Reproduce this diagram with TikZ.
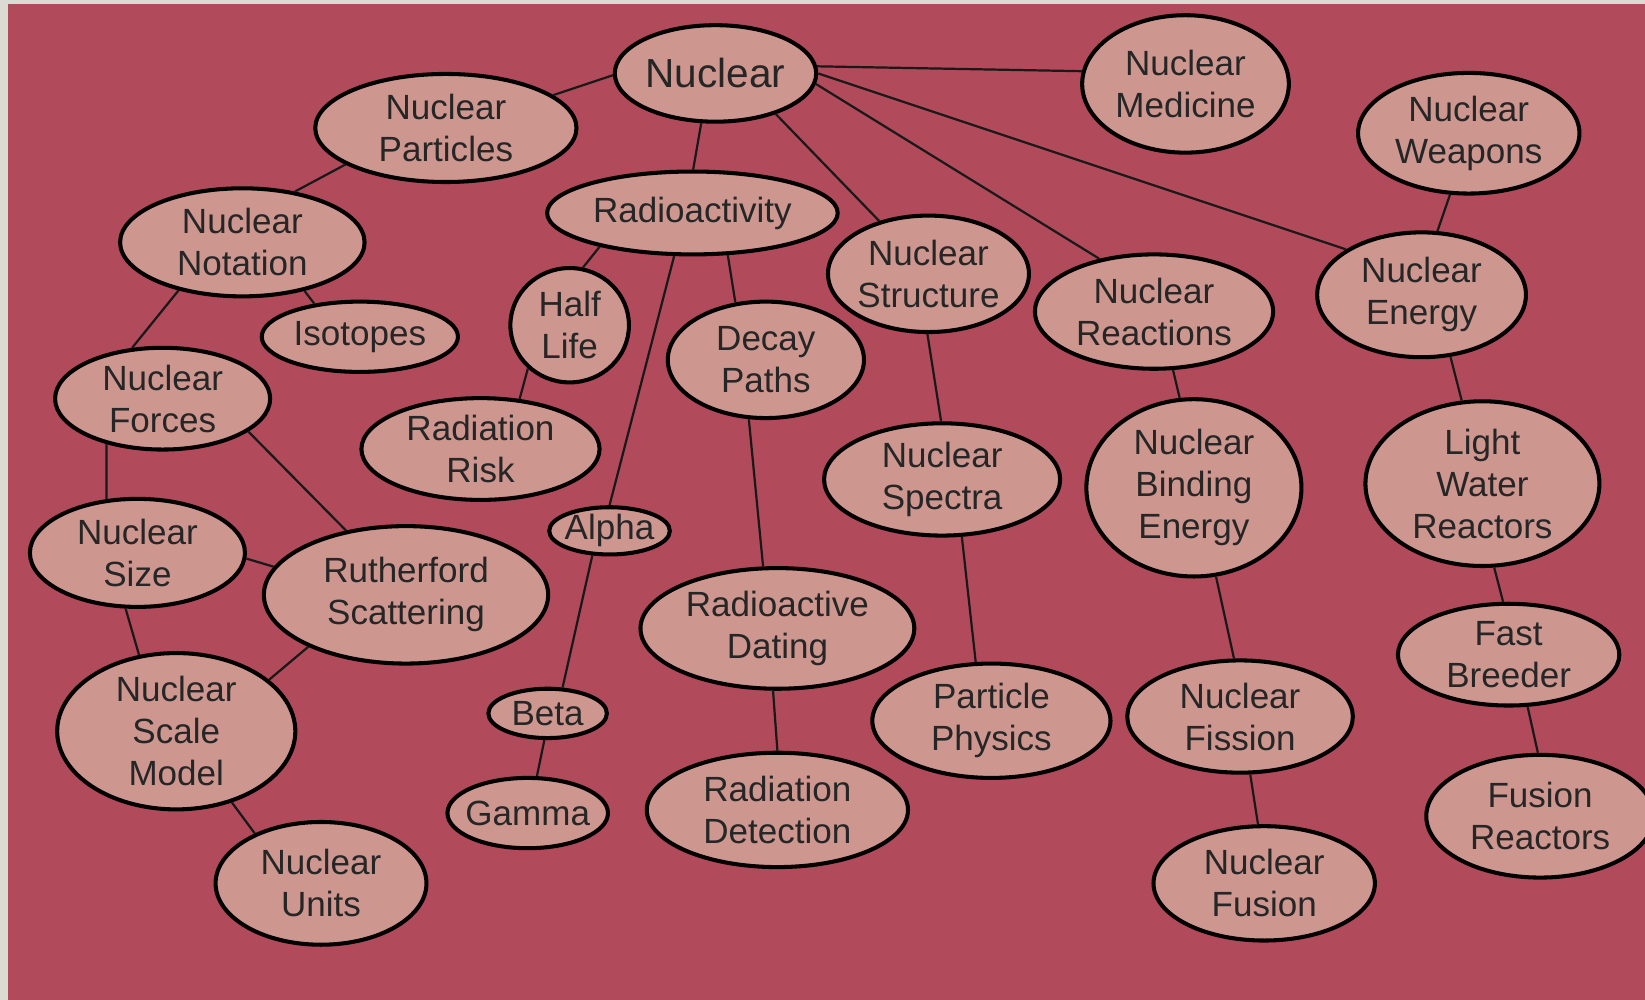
\documentclass[tikz,border=0pt]{standalone}
\usepackage{fontspec}
\setmainfont{Liberation Sans}
\usetikzlibrary{shapes.geometric}
\definecolor{mapbg}{HTML}{B14A5A}
\definecolor{topicfill}{HTML}{CD9790}
\definecolor{framegray}{HTML}{DCDBD3}
\begin{document}
\begin{tikzpicture}[topic/.style={draw=black, line width=1.1pt, ellipse, fill=topicfill, inner sep=0pt, align=center, text=black!85, font=\fontsize{9.5}{11.4}\selectfont}, link/.style={line width=0.6pt, black!90}]
		\useasboundingbox (0,0) rectangle (15.68,-9.53);
		\fill[framegray] (0,0) rectangle (15.68,-9.53);
		\fill[mapbg] (0.076,-0.038) rectangle (15.68,-9.53);
		
		\node[topic, minimum width=1.92cm, minimum height=0.92cm, font=\fontsize{11}{13}\selectfont] (nuc) at (6.82,-0.70) {Nuclear};
		\node[topic, minimum width=1.97cm, minimum height=1.31cm] (med) at (11.30,-0.80) {Nuclear\\Medicine};
		\node[topic, minimum width=2.11cm, minimum height=1.15cm] (wpn) at (14.00,-1.27) {Nuclear\\Weapons};
		\node[topic, minimum width=2.49cm, minimum height=1.03cm] (part) at (4.25,-1.22) {Nuclear\\Particles};
		\node[topic, minimum width=2.77cm, minimum height=0.79cm] (radio) at (6.60,-2.03) {Radioactivity};
		\node[topic, minimum width=2.33cm, minimum height=1.03cm] (nota) at (2.31,-2.31) {Nuclear\\Notation};
		\node[topic, minimum width=1.87cm, minimum height=0.67cm] (iso) at (3.43,-3.21) {Isotopes};
		\node[topic, minimum width=1.13cm, minimum height=1.09cm] (half) at (5.43,-3.10) {Half\\Life};
		\node[topic, minimum width=1.87cm, minimum height=1.11cm] (decay) at (7.30,-3.43) {Decay\\Paths};
		\node[topic, minimum width=1.81cm, minimum height=1.11cm] (struct) at (8.85,-2.61) {Nuclear\\Structure};
		\node[topic, minimum width=2.27cm, minimum height=1.09cm] (react) at (11.00,-2.97) {Nuclear\\Reactions};
		\node[topic, minimum width=1.99cm, minimum height=1.19cm] (energy) at (13.55,-2.81) {Nuclear\\Energy};
		\node[topic, minimum width=2.05cm, minimum height=0.97cm] (forces) at (1.55,-3.80) {Nuclear\\Forces};
		\node[topic, minimum width=2.27cm, minimum height=0.97cm] (risk) at (4.58,-4.28) {Radiation\\Risk};
		\node[topic, minimum width=2.25cm, minimum height=1.07cm] (spectra) at (8.98,-4.57) {Nuclear\\Spectra};
		\node[topic, minimum width=2.05cm, minimum height=1.69cm] (binding) at (11.38,-4.65) {Nuclear\\Binding\\Energy};
		\node[topic, minimum width=2.23cm, minimum height=1.57cm] (lwr) at (14.13,-4.61) {Light\\Water\\Reactors};
		\node[topic, minimum width=1.15cm, minimum height=0.45cm, inner xsep=-2pt] (alpha) at (5.81,-5.06) {Alpha};
		\node[topic, minimum width=2.05cm, minimum height=1.03cm] (size) at (1.31,-5.27) {Nuclear\\Size};
		\node[topic, minimum width=2.71cm, minimum height=1.31cm] (ruth) at (3.87,-5.67) {Rutherford\\Scattering};
		\node[topic, minimum width=2.61cm, minimum height=1.15cm] (dating) at (7.41,-5.99) {Radioactive\\Dating};
		\node[topic, minimum width=2.11cm, minimum height=0.97cm] (breeder) at (14.38,-6.24) {Fast\\Breeder};
		\node[topic, minimum width=2.27cm, minimum height=1.49cm] (scale) at (1.68,-6.97) {Nuclear\\Scale\\Model};
		\node[topic, minimum width=1.13cm, minimum height=0.47cm] (beta) at (5.22,-6.80) {Beta};
		\node[topic, minimum width=2.27cm, minimum height=1.09cm] (pphys) at (9.45,-6.87) {Particle\\Physics};
		\node[topic, minimum width=2.15cm, minimum height=1.07cm] (fission) at (11.82,-6.83) {Nuclear\\Fission};
		\node[topic, minimum width=1.53cm, minimum height=0.67cm, inner xsep=-3pt] (gamma) at (5.03,-7.75) {Gamma};
		\node[topic, minimum width=2.49cm, minimum height=1.09cm] (detect) at (7.41,-7.72) {Radiation\\Detection};
		\node[topic, minimum width=2.17cm, minimum height=1.17cm] (fusreac) at (14.68,-7.78) {Fusion\\Reactors};
		\node[topic, minimum width=2.11cm, minimum height=1.09cm] (fusion) at (12.05,-8.42) {Nuclear\\Fusion};
		\node[topic, minimum width=2.01cm, minimum height=1.17cm] (units) at (3.06,-8.42) {Nuclear\\Units};
		
		\draw[link] (nuc.181) -- (part.17);
		\draw[link] (nuc.4) -- (med.173);
		\draw[link] (nuc.254) -- (radio.89);
		\draw[link] (nuc.-34) -- (struct.133);
		\draw[link] (nuc.-6) -- (react.136);
		\draw[link] (nuc.0) -- (energy.149);
		\draw[link] (part.200) -- (nota.44);
		\draw[link] (nota.-38) -- (iso.144);
		\draw[link] (nota.217) -- (forces.121);
		\draw[link] (radio.200) -- (half.77);
		\draw[link] (radio.247) -- (alpha.90);
		\draw[link] (radio.-50) -- (decay.118);
		\draw[link] (half.226) -- (risk.52);
		\draw[link] (decay.254) -- (dating.103);
		\draw[link] (dating.266) -- (detect.90);
		\draw[link] (alpha.235) -- (beta.60);
		\draw[link] (beta.263) -- (gamma.76);
		\draw[link] (struct.269) -- (spectra.91);
		\draw[link] (spectra.289) -- (pphys.105);
		\draw[link] (react.288) -- (binding.99);
		\draw[link] (binding.284) -- (fission.96);
		\draw[link] (fission.280) -- (fusion.96);
		\draw[link] (wpn.253) -- (energy.76);
		\draw[link] (energy.295) -- (lwr.104);
		\draw[link] (lwr.278) -- (breeder.96);
		\draw[link] (breeder.290) -- (fusreac.92);
		\draw[link] (forces.219) -- (size.120);
		\draw[link] (forces.339) -- (ruth.133);
		\draw[link] (size.-3) -- (ruth.168);
		\draw[link] (size.258) -- (scale.116);
		\draw[link] (ruth.208) -- (scale.29);
		\draw[link] (scale.308) -- (units.143);
		
		\end{tikzpicture}
\end{document}
